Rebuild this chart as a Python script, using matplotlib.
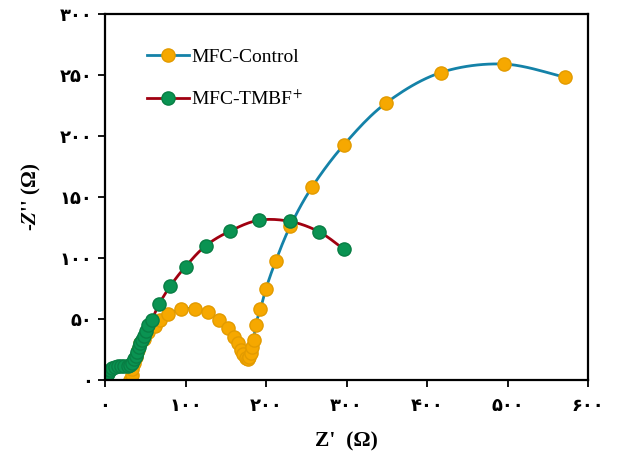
import numpy as np
import matplotlib
matplotlib.use('Agg')
import matplotlib.pyplot as plt

# Nyquist data (ohm)
control_re = [31, 33, 34, 36, 38, 41, 44, 48, 54, 62, 68, 78, 95, 112, 128, 142, 153,
              160, 165, 169, 172, 175, 177, 179, 181, 183, 185, 187, 193, 200, 212,
              230, 257, 297, 349, 417, 496, 572]
control_im = [0, 4, 9, 14, 19, 25, 30, 34, 39, 44, 49, 54, 58, 58.5, 55.5, 49.5, 43,
              35.5, 30, 25, 21, 18, 17, 18.5, 22, 27, 33, 45, 58, 75, 97.5,
              126, 158, 193, 227, 252, 259, 248]

tmbf_re = [0, 1, 2, 4, 6, 9, 12, 16, 20, 24, 28, 31, 34, 36, 38, 40, 42, 44, 46, 48,
           51, 54, 58, 67, 81, 100, 125, 155, 191, 230, 266, 297]
tmbf_im = [0, 2, 4, 6, 8, 9.5, 10.5, 11.2, 11.5, 11.5, 11.5, 12, 14, 17, 20, 23, 27,
           30, 33, 36, 40, 45, 49, 62, 77, 93, 110, 122, 131, 130, 121.5, 107]

fa = '۰۱۲۳۴۵۶۷۸۹'
def fa_num(v):
	return ''.join(fa[int(c)] for c in str(int(v)))

x_ticks = [0, 100, 200, 300, 400, 500, 600]
y_ticks = [0, 50, 100, 150, 200, 250, 300]


def smooth(xs, ys, n=12):
	# catmull-rom through the points, like the "smoothed line" option
	p = np.column_stack([xs, ys]).astype(float)
	p = np.vstack([p[0], p, p[-1]])
	out = []
	t = np.linspace(0, 1, n, endpoint=False)[:, None]
	for i in range(1, len(p) - 2):
		p0, p1, p2, p3 = p[i - 1], p[i], p[i + 1], p[i + 2]
		seg = 0.5 * ((2 * p1) + (-p0 + p2) * t + (2 * p0 - 5 * p1 + 4 * p2 - p3) * t ** 2
			+ (-p0 + 3 * p1 - 3 * p2 + p3) * t ** 3)
		out.append(seg)
	out.append(p[-2][None, :])
	out = np.vstack(out)
	return out[:, 0], out[:, 1]


plt.rcParams['mathtext.fontset'] = 'stix'

fig = plt.figure(figsize=(6.2, 4.53), dpi=100)
ax = fig.add_axes([0.1694, 0.1611, 0.7790, 0.8079])

cx, cy = smooth(control_re, control_im)
tx, ty = smooth(tmbf_re, tmbf_im)
ax.plot(cx, cy, '-', color='#1482a8', lw=2)
ax.plot(tx, ty, '-', color='#a00010', lw=2)
ax.plot(control_re, control_im, 'o', color='#1482a8', linestyle='none',
	markerfacecolor='#f6a800', markeredgecolor='#e39b00', markersize=9.5)
ax.plot(tmbf_re, tmbf_im, 'o', color='#a00010', linestyle='none',
	markerfacecolor='#0a9352', markeredgecolor='#087e44', markersize=9.5)

# legend handles: line with a marker in the middle
h1, = ax.plot([], [], '-o', color='#1482a8', lw=2,
	markerfacecolor='#f6a800', markeredgecolor='#e39b00', markersize=9.5)
h2, = ax.plot([], [], '-o', color='#a00010', lw=2,
	markerfacecolor='#0a9352', markeredgecolor='#087e44', markersize=9.5)

ax.set_xlim(0, 600)
ax.set_ylim(0, 300)
ax.set_xticks(x_ticks)
ax.set_yticks(y_ticks)
ax.set_xticklabels([fa_num(v) for v in x_ticks], fontsize=13, fontweight='bold', family='DejaVu Sans')
ax.set_yticklabels([fa_num(v) for v in y_ticks], fontsize=13, fontweight='bold', family='DejaVu Sans')
ax.tick_params(direction='out', length=5, width=1.3)
ax.tick_params(axis='y', pad=4)
ax.tick_params(axis='x', pad=7)
for s in ax.spines.values():
	s.set_linewidth(1.6)

ax.set_xlabel("Z'  (Ω)", fontsize=15.5, fontweight='bold', family='Liberation Serif', labelpad=12)
ax.set_ylabel("-$\\mathbfit{Z}$'' (Ω)", fontsize=15, fontweight='bold', family='Liberation Serif', labelpad=12)

leg = ax.legend([h1, h2], ['MFC-Control', 'MFC-TMBF$^{+}$'], loc='upper left',
	bbox_to_anchor=(0.05, 0.955), frameon=False,
	prop={'family': 'Liberation Serif', 'size': 14}, labelspacing=1.2,
	handlelength=2.2, handletextpad=0.1, borderaxespad=0.5)

fig.savefig('out.png', dpi=100)
